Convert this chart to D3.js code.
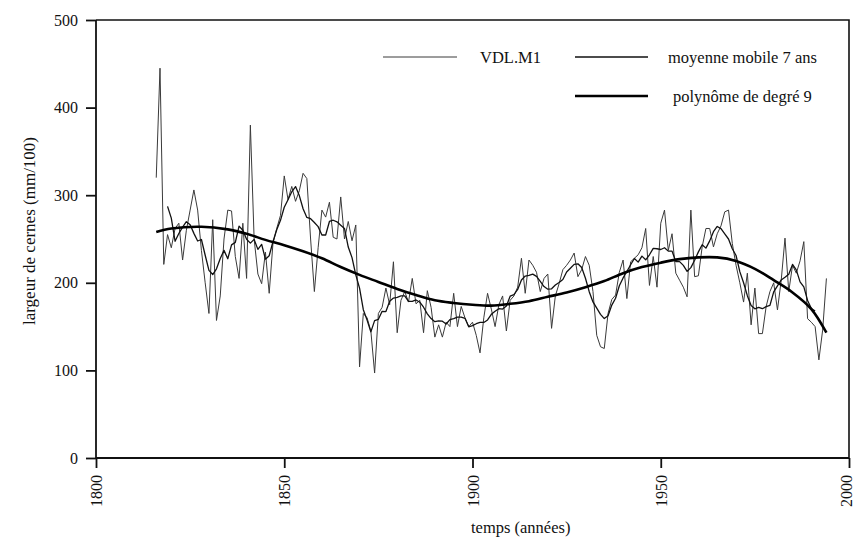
<!DOCTYPE html>
<html>
<head>
<meta charset="utf-8">
<script src="https://cdn.jsdelivr.net/npm/d3@7"></script>
<style>
  html, body { margin: 0; padding: 0; background: #fff; }
  svg { display: block; }
  text { font-family: "Liberation Serif", "Times New Roman", serif; fill: #111; }
</style>
</head>
<body>
<svg id="chart" width="856" height="539"></svg>
<script>
// ---- data ----
const firstYear = 1816;
const ringWidth = [
  320, 445, 221, 255, 240, 262, 268, 226, 260, 283,   // 1816-1825
  306, 283, 237, 200, 165, 272, 157, 185, 250, 283,   // 1826-1835
  282, 230, 205, 268, 205, 380, 250, 210, 199, 235,   // 1836-1845
  188, 245, 262, 277, 322, 295, 310, 293, 305, 325,   // 1846-1855
  319, 250, 190, 240, 283, 275, 292, 252, 250, 298,   // 1856-1865
  250, 270, 248, 266, 104, 165, 160, 145,  97, 165,   // 1866-1875
  172, 194, 175, 224, 143, 180, 190, 178, 205, 176,   // 1876-1885
  180, 143, 191, 172, 138, 152, 138, 155, 150, 188,   // 1886-1895
  150, 173, 160, 150, 155, 140, 120, 160, 188, 170,   // 1896-1905
  150, 175, 185, 145, 180, 185, 195, 228, 188, 226,   // 1906-1915
  220, 212, 190, 205, 210, 148, 185, 199, 215, 220,   // 1916-1925
  226, 234, 207, 215, 230, 220, 190, 140, 127, 125,   // 1926-1935
  165, 181, 186, 212, 226, 182, 224, 228, 232, 240,   // 1936-1945
  262, 197, 230, 195, 268, 283, 237, 256, 211, 203,   // 1946-1955
  195, 184, 283, 207, 208, 241, 262, 262, 241, 256,   // 1956-1965
  265, 281, 283, 245, 220, 200, 178, 211, 152, 194,   // 1966-1975
  142, 142, 173, 190, 200, 169, 203, 251, 190, 220,   // 1976-1985
  211, 225, 247, 159, 155, 150, 112, 146, 205         // 1986-1994
];
const polyYears  = [1816, 1820, 1828, 1835, 1840, 1845, 1850, 1855, 1860, 1865, 1870, 1875, 1880, 1885, 1890, 1895, 1900, 1905, 1910, 1915, 1920, 1925, 1930, 1935, 1940, 1945, 1950, 1955, 1960, 1965, 1970, 1975, 1980, 1985, 1990, 1994];
const polyValues = [ 258,  262,  264,  261,  256,  249,  243,  236,  228,  218,  209,  201,  193,  186,  180,  177,  175,  174,  176,  179,  184,  189,  195,  202,  211,  218,  223,  227,  229,  229,  225,  216,  203,  189,  170,  143];
const maWindow = 7;
const xTicks = [1800, 1850, 1900, 1950, 2000];
const yTicks = [0, 100, 200, 300, 400, 500];
const legendLabels = ["VDL.M1", "moyenne mobile 7 ans", "polynôme de degré 9"];
const xTitle = "temps (années)";
const yTitle = "largeur de cernes (mm/100)";

// ---- derived series ----
const raw = ringWidth.map((v, i) => ({ year: firstYear + i, v }));
const half = Math.floor(maWindow / 2);
const ma = [];
for (let i = half; i < raw.length - half; i++) {
  ma.push({ year: raw[i].year, v: d3.mean(raw.slice(i - half, i + half + 1), d => d.v) });
}
const poly = polyYears.map((y, i) => ({ year: y, v: polyValues[i] }));

// ---- drawing ----
const svg = d3.select("#chart");
const x = d3.scaleLinear().domain([1800, 2000]).range([96, 849]);
const y = d3.scaleLinear().domain([0, 500]).range([458, 20]);

// frame (top & right)
svg.append("path")
  .attr("d", `M${x(1800)},${y(500)}H${x(2000)}V${y(0)}`)
  .attr("fill", "none").attr("stroke", "#111").attr("stroke-width", 1.6);

const line = d3.line().x(d => x(d.year)).y(d => y(d.v));

svg.append("path").datum(raw)
  .attr("d", line).attr("fill", "none")
  .attr("stroke", "#3a3a3a").attr("stroke-width", 1).attr("stroke-linejoin", "round");
svg.append("path").datum(ma)
  .attr("d", line).attr("fill", "none")
  .attr("stroke", "#111").attr("stroke-width", 1.3).attr("stroke-linejoin", "round");
svg.append("path").datum(poly)
  .attr("d", line.curve(d3.curveCatmullRom)).attr("fill", "none")
  .attr("stroke", "#000").attr("stroke-width", 2.6);

// axes
const yAxis = svg.append("g").attr("transform", `translate(${x(1800)},0)`)
  .call(d3.axisLeft(y).tickValues(yTicks).tickSize(10).tickPadding(8).tickFormat(d3.format("d")));
const xAxis = svg.append("g").attr("transform", `translate(0,${y(0)})`)
  .call(d3.axisBottom(x).tickValues(xTicks).tickSize(10).tickFormat(d3.format("d")));
[yAxis, xAxis].forEach(g => {
  g.select(".domain").attr("stroke", "#111").attr("stroke-width", 1.8);
  g.selectAll(".tick line").attr("stroke", "#111").attr("stroke-width", 1.8);
  g.selectAll("text").style("font-family", '"Liberation Serif", serif').style("font-size", "16px").attr("fill", "#111");
});
yAxis.select(".domain").attr("d", `M0,${y(500)}V${y(0)}`);
xAxis.select(".domain").attr("d", `M${x(1800)},0H${x(2000)}`);
xAxis.selectAll(".tick text")
  .attr("transform", d => `translate(${d === 2000 ? -3 : 0},49) rotate(-90)`)
  .attr("x", 0).attr("y", 0).attr("dy", "0.35em")
  .attr("text-anchor", "start");

// axis titles
svg.append("text").attr("x", 471).attr("y", 533)
  .attr("text-anchor", "start").style("font-size", "16.5px").text(xTitle);
svg.append("text").attr("transform", "translate(35,231) rotate(-90)")
  .attr("text-anchor", "middle").style("font-size", "17px").text(yTitle);

// legend
const legendItems = [
  { x1: 383, x2: 457, y: 57, tx: 480, stroke: "#3a3a3a", w: 1 },
  { x1: 575, x2: 648, y: 57, tx: 668, stroke: "#111", w: 1.3 },
  { x1: 575, x2: 648, y: 96, tx: 673, stroke: "#000", w: 2.6 }
];
const lg = svg.append("g");
legendItems.forEach((it, i) => {
  lg.append("line").attr("x1", it.x1).attr("x2", it.x2).attr("y1", it.y).attr("y2", it.y)
    .attr("stroke", it.stroke).attr("stroke-width", it.w);
  lg.append("text").attr("x", it.tx).attr("y", it.y + 6)
    .style("font-size", "16.5px").text(legendLabels[i]);
});
</script>
</body>
</html>
